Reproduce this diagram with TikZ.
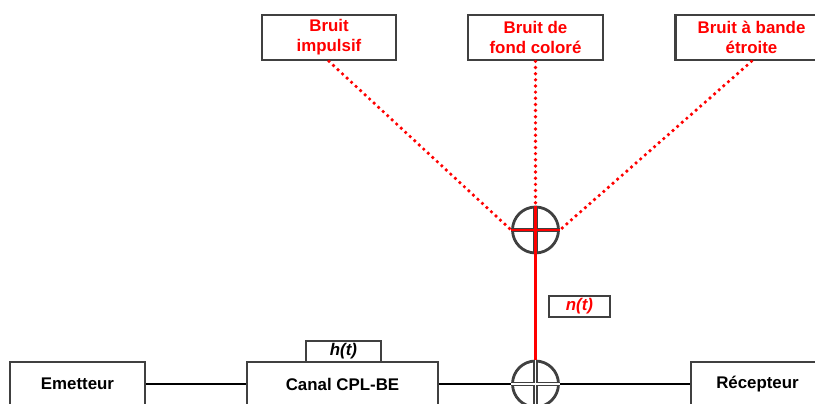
\documentclass[tikz,border=0pt]{standalone}
\usepackage{fontspec}
\setmainfont{Liberation Sans}
\usepackage{xcolor}
\usepackage{tikz}
\usetikzlibrary{positioning}
\definecolor{cadre}{RGB}{64, 64, 64}
\definecolor{bruit}{RGB}{255, 0, 0}

\begin{document}
\begin{tikzpicture}[
    x=0.02cm, y=-0.02cm,
    bloc/.style={rectangle, draw=cadre, line width=1.6pt, fill=white,
        minimum width=2.7cm, minimum height=0.88cm, align=center, inner sep=2pt,
        font=\bfseries\fontsize{9.6}{11.4}\selectfont},
    source/.style={bloc, text=bruit, minimum height=0.9cm},
    etiquette/.style={rectangle, draw=cadre, line width=1.6pt, fill=white,
        minimum height=0.42cm, inner sep=0pt,
        font=\bfseries\itshape\fontsize{9.6}{11.4}\selectfont},
    sommateur/.style={circle, draw=cadre, line width=1.6pt, fill=white,
        minimum size=0.92cm, inner sep=0pt},
    liaison/.style={draw=black, line width=1.1pt},
    signal/.style={draw=bruit, line width=1.7pt},
    pointille/.style={draw=bruit, line width=2.1pt, line cap=round,
        dash pattern=on 0pt off 3.5pt}
]
\useasboundingbox (0,0) rectangle (815,404);
\clip (0,0) rectangle (815,404);

% Sources de bruit
\node[source, minimum width=2.68cm] (bimp) at (329,37.5) {Bruit\\impulsif};
\node[source, minimum width=2.7cm] (bfond) at (535.5,37.5) {Bruit de\\fond coloré};
\node[source, minimum width=3.04cm] (bbande) at (751.5,37.5) {Bruit à bande\\étroite};

% Somme des bruits
\node[sommateur] (bsomme) at (535.5,230) {};

\draw[pointille] (bimp.south) -- (bsomme.west);
\draw[pointille] (bfond.south) -- (bsomme.north);
\draw[pointille] (bbande.south) -- (bsomme.east);

\draw[cadre, line width=2.8pt] (bsomme.north) -- (bsomme.south)
    (bsomme.west) -- (bsomme.east);
\draw[signal] (bsomme.north) -- (bsomme.south)
    (bsomme.west) -- (bsomme.east);

% Chaine de transmission
\node[bloc] (emetteur) at (77.5,384) {Emetteur};
\node[bloc, minimum width=3.82cm] (canal) at (342.5,384) {Canal CPL-BE};
\node[etiquette, minimum width=1.5cm, above=-1.6pt of canal, xshift=0.02cm] (ht) {h(t)};
\node[sommateur] (somme) at (535.5,384) {};
\node[bloc, minimum width=2.66cm] (recepteur) at (757.5,384) {Récepteur};

\draw[liaison] (emetteur) -- (canal);
\draw[liaison] (canal) -- (somme);
\draw[liaison] (somme) -- (recepteur);

\draw[cadre, line width=1pt, double=white, double distance=0.8pt]
    (somme.north) -- (somme.south) (somme.west) -- (somme.east);
\draw[signal] (bsomme.south) -- (somme.north);

\node[etiquette, text=bruit, minimum width=1.22cm] (nt) at (579.5,306.5) {n(t)};

\end{tikzpicture}
\end{document}
